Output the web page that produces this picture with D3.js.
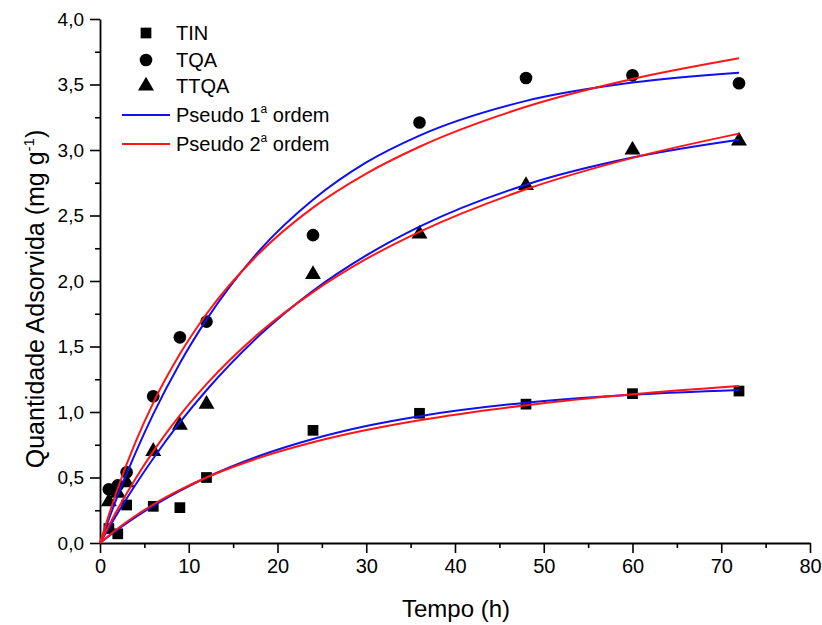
<!DOCTYPE html>
<html>
<head>
<meta charset="utf-8">
<script src="https://cdn.jsdelivr.net/npm/d3@7"></script>
<style>
  html, body { margin: 0; padding: 0; background: #fff; }
  svg { display: block; font-family: "Liberation Sans", Arial, sans-serif; }
</style>
</head>
<body>
<svg id="chart" width="822" height="625"></svg>
<script>
// Measured adsorption (mg g-1) at each contact time (h)
const timesTIN  = [1, 2, 3, 6, 9, 12, 24, 36, 48, 60, 72];
const valuesTIN = [0.11, 0.07, 0.29, 0.28, 0.27, 0.50, 0.86, 0.99, 1.06, 1.14, 1.16];

const timesTQA  = [1, 2, 3, 6, 9, 12, 24, 36, 48, 60, 72];
const valuesTQA = [0.41, 0.44, 0.54, 1.12, 1.57, 1.69, 2.35, 3.21, 3.55, 3.57, 3.51];

const timesTTQA  = [1, 2, 3, 6, 9, 12, 24, 36, 48, 60, 72];
const valuesTTQA = [0.315, 0.38, 0.46, 0.70, 0.90, 1.06, 2.05, 2.36, 2.73, 3.00, 3.07];

// Kinetic model curves, sampled along the time axis
const curveTimes = [0, 2, 4, 6, 9, 12, 18, 24, 30, 36, 48, 60, 72];
const pfoTIN  = [0, 0.103, 0.197, 0.283, 0.398, 0.500, 0.666, 0.794, 0.893, 0.968, 1.071, 1.131, 1.167];
const psoTIN  = [0, 0.111, 0.208, 0.294, 0.405, 0.500, 0.652, 0.769, 0.862, 0.937, 1.052, 1.136, 1.199];
const pfoTQA  = [0, 0.362, 0.688, 0.984, 1.373, 1.705, 2.235, 2.620, 2.905, 3.110, 3.375, 3.515, 3.590];
const psoTQA  = [0, 0.418, 0.770, 1.070, 1.442, 1.748, 2.216, 2.560, 2.820, 3.025, 3.330, 3.542, 3.700];
const pfoTTQA = [0, 0.230, 0.445, 0.645, 0.920, 1.166, 1.587, 1.925, 2.195, 2.415, 2.735, 2.942, 3.078];
const psoTTQA = [0, 0.259, 0.490, 0.699, 0.974, 1.213, 1.606, 1.915, 2.168, 2.375, 2.700, 2.940, 3.125];

const xTicks = [0, 10, 20, 30, 40, 50, 60, 70, 80];
const yTicks = [0, 0.5, 1.0, 1.5, 2.0, 2.5, 3.0, 3.5, 4.0];

const seriesNames = ["TIN", "TQA", "TTQA"];
const modelNames = ["Pseudo 1", "Pseudo 2"];

const svg = d3.select("#chart");
const x = d3.scaleLinear().domain([0, 80]).range([100, 810]);
const y = d3.scaleLinear().domain([0, 4]).range([543, 19]);
const comma = v => d3.format(".1f")(v).replace(".", ",");

// Axes with major and minor ticks
const xMinor = d3.range(5, 80, 10);
const yMinor = d3.range(0.25, 4, 0.5);

svg.append("g").attr("transform", "translate(0,543)")
  .call(d3.axisBottom(x).tickValues(xMinor).tickSize(5).tickFormat(""))
  .call(g => g.select(".domain").remove())
  .selectAll("line").attr("stroke-width", 1.6);
const gx = svg.append("g").attr("transform", "translate(0,543)")
  .call(d3.axisBottom(x).tickValues(xTicks).tickSize(10).tickSizeOuter(0).tickPadding(6).tickFormat(d3.format("d")));
gx.select(".domain").attr("stroke-width", 1.8);
gx.selectAll("line").attr("stroke-width", 1.6);
gx.selectAll("text").attr("font-size", 20).attr("font-family", "Liberation Sans, Arial, sans-serif");

svg.append("g").attr("transform", "translate(100,0)")
  .call(d3.axisLeft(y).tickValues(yMinor).tickSize(5).tickFormat(""))
  .call(g => g.select(".domain").remove())
  .selectAll("line").attr("stroke-width", 1.6);
const gy = svg.append("g").attr("transform", "translate(100,0)")
  .call(d3.axisLeft(y).tickValues(yTicks).tickSize(10).tickSizeOuter(0).tickPadding(6).tickFormat(comma));
gy.select(".domain").attr("stroke-width", 1.8);
gy.selectAll("line").attr("stroke-width", 1.6);
gy.selectAll("text").attr("font-size", 19).attr("font-family", "Liberation Sans, Arial, sans-serif");

// Axis titles
svg.append("text").attr("x", 456).attr("y", 617).attr("text-anchor", "middle")
  .attr("font-size", 24).text("Tempo (h)");

const yTitle = svg.append("text")
  .attr("transform", "translate(44,299) rotate(-90)")
  .attr("text-anchor", "middle").attr("font-size", 25);
yTitle.append("tspan").text("Quantidade Adsorvida (mg g");
yTitle.append("tspan").attr("font-size", 15).attr("dy", -10).text("-1");
yTitle.append("tspan").attr("dy", 10).text(")");

// Marker shapes
const symSquare = d3.symbol().type(d3.symbolSquare).size(115);
const symCircle = d3.symbol().type(d3.symbolCircle).size(125);
const symTriangle = d3.symbol().type(d3.symbolTriangle).size(110);

function drawPoints(times, values, sym) {
  svg.append("g").selectAll("path").data(times.map((t, i) => [t, values[i]])).join("path")
    .attr("transform", d => `translate(${x(d[0])},${y(d[1])})`)
    .attr("d", sym).attr("fill", "#000");
}
drawPoints(timesTIN, valuesTIN, symSquare);
drawPoints(timesTQA, valuesTQA, symCircle);
drawPoints(timesTTQA, valuesTTQA, symTriangle);

// Model curves
const line = d3.line().x(d => x(d[0])).y(d => y(d[1])).curve(d3.curveMonotoneX);
function drawCurve(values, color) {
  svg.append("path").datum(curveTimes.map((t, i) => [t, values[i]]))
    .attr("d", line).attr("fill", "none").attr("stroke", color).attr("stroke-width", 2);
}
[pfoTIN, pfoTQA, pfoTTQA].forEach(v => drawCurve(v, "#1010ee"));
[psoTIN, psoTQA, psoTTQA].forEach(v => drawCurve(v, "#ff1515"));

// Legend
const leg = svg.append("g").attr("font-size", 20);
const legSyms = [symSquare, symCircle, symTriangle];
const legY = [33, 60, 86];
seriesNames.forEach((name, i) => {
  leg.append("path").attr("transform", `translate(146,${legY[i]})`).attr("d", legSyms[i]).attr("fill", "#000");
  leg.append("text").attr("x", 176).attr("y", legY[i] + 7).text(name);
});
const modelColors = ["#1010ee", "#ff1515"];
const modelY = [115, 144];
modelNames.forEach((name, i) => {
  leg.append("line").attr("x1", 122).attr("x2", 170).attr("y1", modelY[i]).attr("y2", modelY[i])
    .attr("stroke", modelColors[i]).attr("stroke-width", 2);
  const t = leg.append("text").attr("x", 176).attr("y", modelY[i] + 7);
  t.append("tspan").text(name);
  t.append("tspan").attr("font-size", 12).attr("dy", -9).text("a");
  t.append("tspan").attr("dy", 9).text(" ordem");
});
</script>
</body>
</html>
